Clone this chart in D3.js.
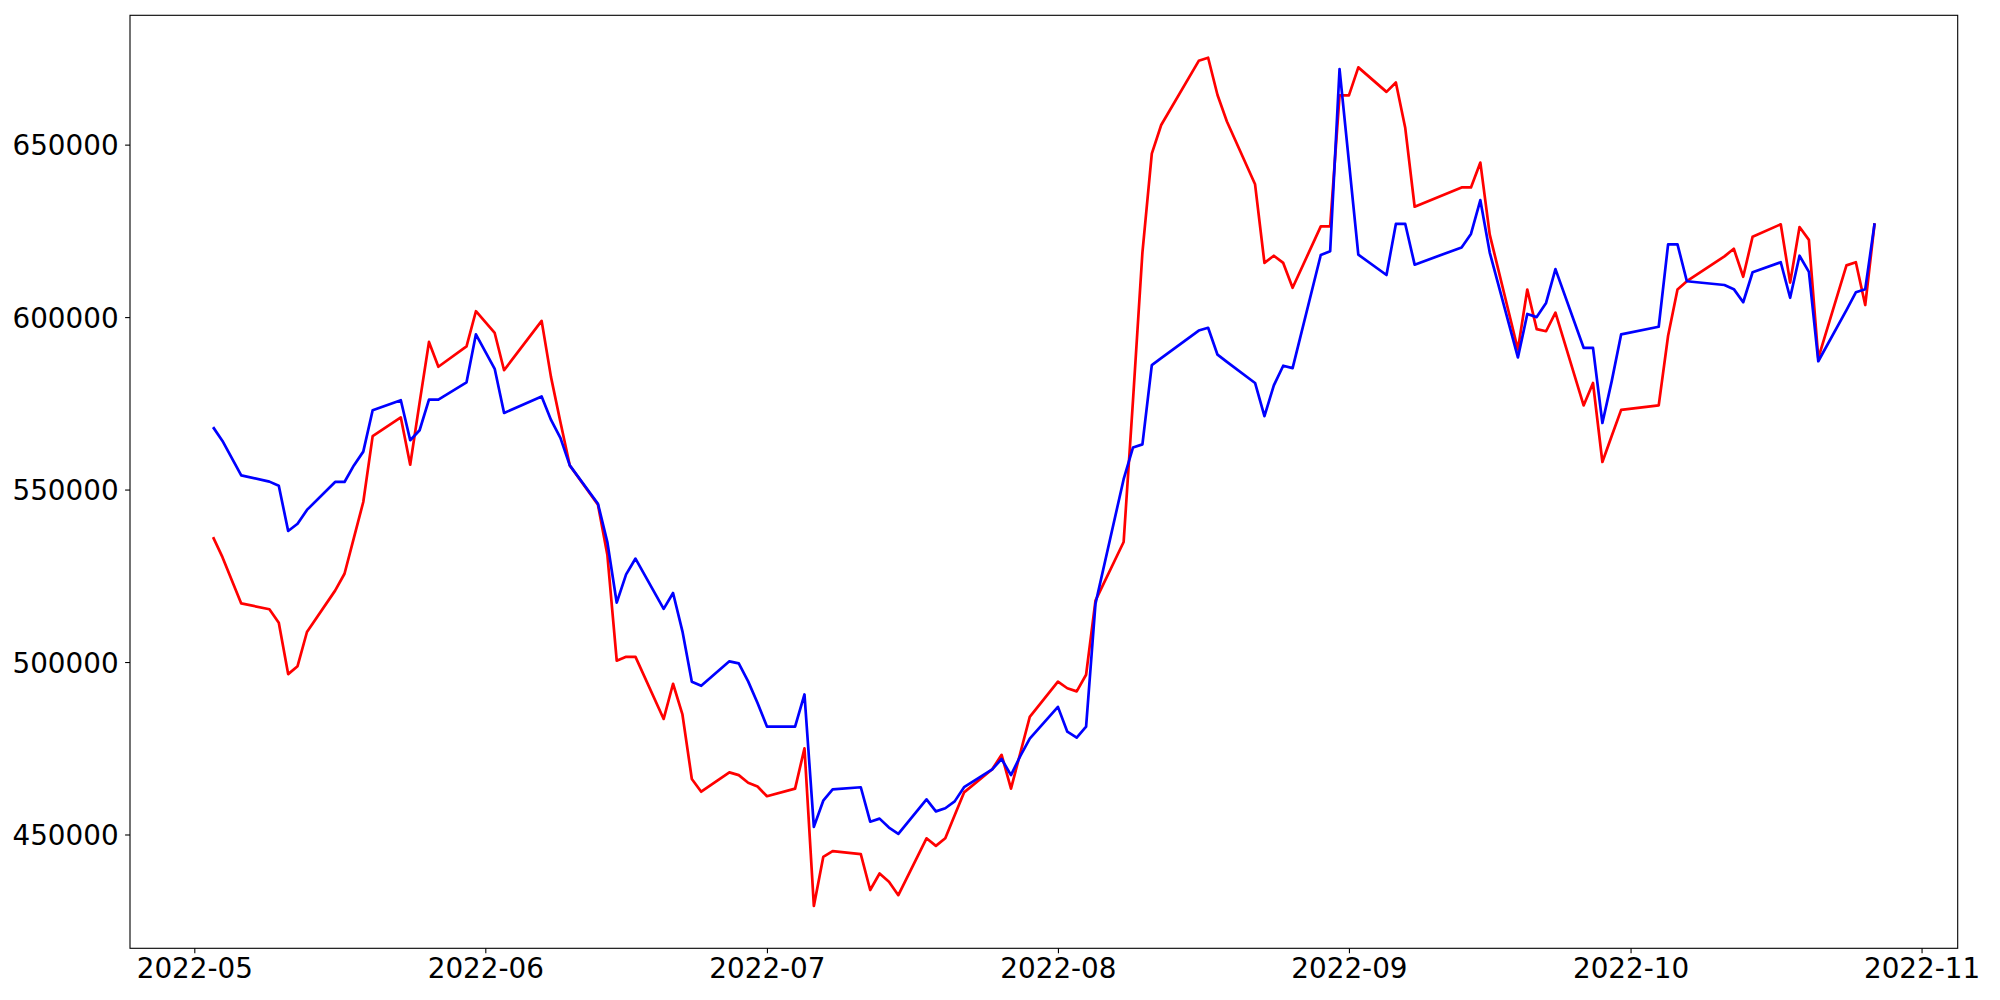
<!DOCTYPE html>
<html>
<head>
<meta charset="utf-8">
<script src="https://cdn.jsdelivr.net/npm/d3@7"></script>
<style>
  body { margin: 0; background: #fff; }
  .tick text { font-family: "DejaVu Sans", sans-serif; font-size: 27.8px; fill: #000; }
  .tick line { stroke: #000; stroke-width: 1.1; }
</style>
</head>
<body>
<div id="chart"></div>
<script>
// trading days (KRX calendar), May 3 .. Oct 27 2022
var dates = [
  "2022-05-03","2022-05-04","2022-05-06","2022-05-09","2022-05-10","2022-05-11","2022-05-12","2022-05-13",
  "2022-05-16","2022-05-17","2022-05-18","2022-05-19","2022-05-20","2022-05-23","2022-05-24","2022-05-25",
  "2022-05-26","2022-05-27","2022-05-30","2022-05-31",
  "2022-06-02","2022-06-03","2022-06-07","2022-06-08","2022-06-09","2022-06-10","2022-06-13","2022-06-14",
  "2022-06-15","2022-06-16","2022-06-17","2022-06-20","2022-06-21","2022-06-22","2022-06-23","2022-06-24",
  "2022-06-27","2022-06-28","2022-06-29","2022-06-30",
  "2022-07-01","2022-07-04","2022-07-05","2022-07-06","2022-07-07","2022-07-08","2022-07-11","2022-07-12",
  "2022-07-13","2022-07-14","2022-07-15","2022-07-18","2022-07-19","2022-07-20","2022-07-21","2022-07-22",
  "2022-07-25","2022-07-26","2022-07-27","2022-07-28","2022-07-29",
  "2022-08-01","2022-08-02","2022-08-03","2022-08-04","2022-08-05","2022-08-08","2022-08-09","2022-08-10",
  "2022-08-11","2022-08-12","2022-08-16","2022-08-17","2022-08-18","2022-08-19","2022-08-22","2022-08-23",
  "2022-08-24","2022-08-25","2022-08-26","2022-08-29","2022-08-30","2022-08-31",
  "2022-09-01","2022-09-02","2022-09-05","2022-09-06","2022-09-07","2022-09-08","2022-09-13","2022-09-14",
  "2022-09-15","2022-09-16","2022-09-19","2022-09-20","2022-09-21","2022-09-22","2022-09-23","2022-09-26",
  "2022-09-27","2022-09-28","2022-09-29","2022-09-30",
  "2022-10-04","2022-10-05","2022-10-06","2022-10-07","2022-10-11","2022-10-12","2022-10-13","2022-10-14",
  "2022-10-17","2022-10-18","2022-10-19","2022-10-20","2022-10-21","2022-10-24","2022-10-25","2022-10-26",
  "2022-10-27"
];

var redValues = [
  536200,530400,517000,515300,511400,496500,498800,508700,520700,525600,536000,546400,565500,570900,557200,575200,
  592800,585600,591500,601700,
  595400,584600,598900,582600,569600,557000,545600,531100,500400,501500,501500,483500,493700,484800,466100,462400,
  468000,467200,465000,463900,
  461100,463300,475000,429300,443500,445200,444300,433900,438700,436300,432400,448900,446700,448900,455600,462200,
  468900,473100,463300,473700,484100,
  494300,492400,491500,496300,517800,534800,576000,618700,647400,655700,674300,675200,664400,656700,638500,615700,
  617800,615700,608500,626300,626300,664300,
  664300,672400,665300,668000,654800,632000,637600,637600,644800,623900,590600,608000,596500,595900,601300,574400,
  580900,558000,565600,573100,
  574400,594600,608000,610400,617600,619800,611700,623300,626900,610000,626100,622400,588100,615000,615900,603500,
  627200
];

var blueValues = [
  568100,564100,554100,552300,551100,538000,540100,544100,552200,552200,557000,561000,573000,575900,564300,567200,
  576100,576100,581100,595000,
  585000,572200,577000,570200,565000,557000,545900,534800,517200,525400,530000,515400,520000,508900,494300,493100,
  500200,499600,494400,488100,
  481300,481300,490600,452200,459800,463100,463700,453700,454600,452000,450200,460200,456700,457600,459600,463700,
  468900,471900,467200,472800,477800,
  487000,479800,478100,481300,516900,553000,562200,563100,586100,588100,596100,596900,589100,587000,580900,571300,
  580200,585900,585200,618000,619100,671900,
  645000,618100,612200,627000,627000,615200,620200,624100,633900,618700,588300,600900,600000,604100,613900,591100,
  591100,569300,581500,595000,
  597200,621100,621100,610400,609300,608100,604300,613000,615900,605600,617800,613100,587200,602000,607200,608100,
  627200
];

var monthTicks = ["2022-05-01","2022-06-01","2022-07-01","2022-08-01","2022-09-01","2022-10-01","2022-11-01"];
var yTicks = [450000, 500000, 550000, 600000, 650000];

var width = 2000, height = 1000;
var margin = {top: 15.3, right: 42.3, bottom: 51.7, left: 130};
var effWidth = width - margin.left - margin.right;
var effHeight = height - margin.top - margin.bottom;

var parse = d3.timeParse("%Y-%m-%d");
var xs = dates.map(parse);

var svg = d3.select("#chart").append("svg")
  .attr("width", width)
  .attr("height", height);

var g = svg.append("g").attr("transform", "translate(" + margin.left + "," + margin.top + ")");

// matplotlib style 5% padding on both axes
var xExt = d3.extent(xs);
var xPad = (xExt[1] - xExt[0]) * 0.05;
var x = d3.scaleTime()
  .domain([new Date(+xExt[0] - xPad), new Date(+xExt[1] + xPad)])
  .range([0, effWidth]);

var all = redValues.concat(blueValues);
var yMin = d3.min(all), yMax = d3.max(all);
var yPad = (yMax - yMin) * 0.05;
var y = d3.scaleLinear()
  .domain([yMin - yPad, yMax + yPad])
  .range([effHeight, 0]);

var line = d3.line()
  .x(function(d){ return x(d[0]); })
  .y(function(d){ return y(d[1]); });

g.append("path")
  .datum(xs.map(function(d, i){ return [d, redValues[i]]; }))
  .attr("fill", "none")
  .attr("stroke", "#ff0000")
  .attr("stroke-width", 2.7)
  .attr("stroke-linejoin", "round")
  .attr("d", line);

g.append("path")
  .datum(xs.map(function(d, i){ return [d, blueValues[i]]; }))
  .attr("fill", "none")
  .attr("stroke", "#0000ff")
  .attr("stroke-width", 2.7)
  .attr("stroke-linejoin", "round")
  .attr("d", line);

var xAxis = g.append("g")
  .attr("transform", "translate(0," + effHeight + ")")
  .call(d3.axisBottom(x)
    .tickValues(monthTicks.map(parse))
    .tickFormat(d3.timeFormat("%Y-%m"))
    .tickSize(4.9)
    .tickPadding(4.9));
xAxis.select(".domain").remove();

var yAxis = g.append("g")
  .call(d3.axisLeft(y)
    .tickValues(yTicks)
    .tickFormat(d3.format("d"))
    .tickSize(4.9)
    .tickPadding(6.5));
yAxis.select(".domain").remove();
yAxis.selectAll(".tick text").attr("dy", "0.36em");

// frame (spines)
g.append("rect")
  .attr("width", effWidth)
  .attr("height", effHeight)
  .attr("fill", "none")
  .attr("stroke", "#000")
  .attr("stroke-width", 1.1);
</script>
</body>
</html>
